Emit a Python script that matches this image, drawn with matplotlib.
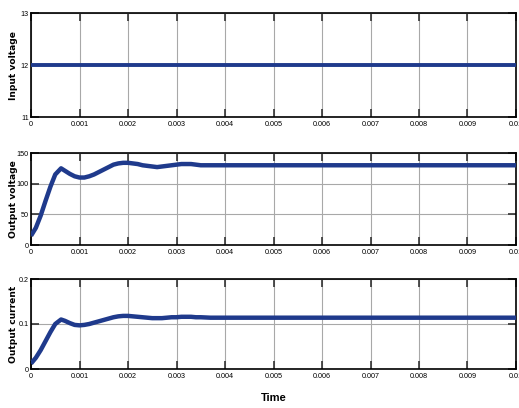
import matplotlib
matplotlib.use("Agg")
import matplotlib.pyplot as plt

# Data
t_in = [0.0, 0.01]
v_in = [12.0, 12.0]

t_out = [0.0, 0.0001, 0.0002, 0.0003, 0.0004, 0.0005, 0.00062, 0.0007, 0.0008, 0.0009,
         0.001, 0.0011, 0.0012, 0.0013, 0.0014, 0.0015, 0.0016, 0.0017, 0.0018, 0.0019,
         0.002, 0.0021, 0.0022, 0.0023, 0.0024, 0.0025, 0.0026, 0.0027, 0.0028, 0.0029,
         0.003, 0.0031, 0.0032, 0.0033, 0.0034, 0.0035, 0.0037, 0.004, 0.0045, 0.005,
         0.006, 0.007, 0.008, 0.009, 0.01]
v_out = [15, 28, 48, 72, 95, 115, 125, 121, 116, 112,
         110, 110, 112, 115, 119, 123, 127, 131, 133, 134,
         134, 133, 132, 130, 129, 128, 127, 128, 129, 130,
         131, 132, 132, 132, 131, 130, 130, 130, 130, 130,
         130, 130, 130, 130, 130]
i_out = [0.012, 0.025, 0.042, 0.062, 0.082, 0.100, 0.110, 0.107, 0.102, 0.098,
         0.097, 0.098, 0.100, 0.103, 0.106, 0.109, 0.112, 0.115, 0.117, 0.118,
         0.118, 0.117, 0.116, 0.115, 0.114, 0.113, 0.113, 0.113, 0.114, 0.115,
         0.115, 0.116, 0.116, 0.116, 0.115, 0.115, 0.114, 0.114, 0.114, 0.114,
         0.114, 0.114, 0.114, 0.114, 0.114]

xticks = [0, 0.001, 0.002, 0.003, 0.004, 0.005, 0.006, 0.007, 0.008, 0.009, 0.01]
xticklabels = ["0", "0.001", "0.002", "0.003", "0.004", "0.005", "0.006", "0.007", "0.008", "0.009", "0.01"]

line_color = "#1f3a8c"
tick_font = dict(family=["Liberation Sans Narrow", "Liberation Sans", "DejaVu Sans"], size=5.2)

fig = plt.figure(figsize=(5.19, 4.08), dpi=100)
W, H = 519, 408

def add_axes(top, bottom):
    left, right = 31, 516
    return fig.add_axes([left / W, 1 - bottom / H, (right - left) / W, (bottom - top) / H])

ax1 = add_axes(13, 117)
ax2 = add_axes(153, 245)
ax3 = add_axes(279, 369)

panels = [
    (ax1, t_in, v_in, (11, 13), [11, 12, 13], ["11", "12", "13"], "Input voltage", 2.8),
    (ax2, t_out, v_out, (0, 150), [0, 50, 100, 150], ["0", "50", "100", "150"], "Output voltage", 3.2),
    (ax3, t_out, i_out, (0, 0.2), [0, 0.1, 0.2], ["0", "0.1", "0.2"], "Output current", 3.2),
]

for ax, x, y, ylim, yt, ytl, ylab, lw in panels:
    ax.plot(x, y, color=line_color, lw=lw, solid_capstyle="butt", zorder=3)
    ax.set_xlim(0, 0.01)
    ax.set_ylim(*ylim)
    ax.set_xticks(xticks)
    ax.set_xticklabels(xticklabels, **tick_font)
    ax.set_yticks(yt)
    ax.set_yticklabels(ytl, **tick_font)
    ax.grid(True, color="#a8a8a8", lw=0.8)
    ax.tick_params(direction="in", top=True, right=True, length=6, width=1.2,
                   color="#333333", pad=3)
    ax.tick_params(axis="y", pad=1.5)
    for s in ax.spines.values():
        s.set_linewidth(1.2)
    ax.set_ylabel(ylab, family="DejaVu Sans", fontsize=6.6, fontweight="bold")
    ax.yaxis.set_label_coords(-13 / 485, 0.5)

ax3.set_xlabel("Time", family=["Liberation Sans Narrow", "Liberation Sans", "DejaVu Sans"],
               fontsize=8, fontweight="bold", labelpad=9)

fig.savefig("out.png", dpi=100)
